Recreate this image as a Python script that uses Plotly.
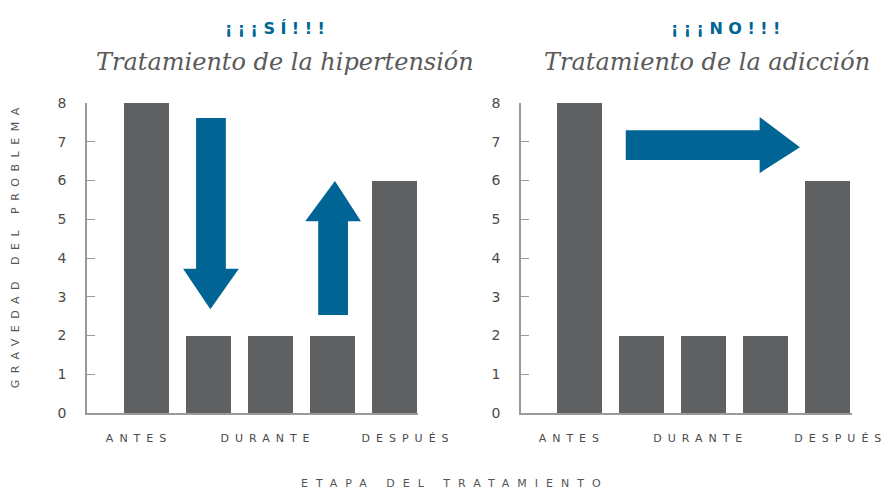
import plotly.graph_objects as go

# ---- data ----
positions = [0, 1, 2, 3, 4]
hipertension_values = [8, 2, 2, 2, 6]
adiccion_values = [8, 2, 2, 2, 6]
stage_labels = ["ANTES", "DURANTE", "DESPUÉS"]
stage_tick_positions = [-0.12, 1.96, 4.22]
y_ticks = [0, 1, 2, 3, 4, 5, 6, 7, 8]

# arrow outlines (data units of each panel)
arrow_down = [(0.80, 7.61), (1.28, 7.61), (1.28, 3.72), (1.49, 3.72), (1.03, 2.68),
              (0.59, 3.72), (0.80, 3.72)]
arrow_up = [(2.77, 2.53), (3.25, 2.53), (3.25, 4.95), (3.46, 4.95), (3.04, 5.99),
            (2.56, 4.95), (2.77, 4.95)]
arrow_right = [(0.75, 6.53), (0.75, 7.30), (2.91, 7.30), (2.91, 7.64), (3.56, 6.86),
               (2.91, 6.19), (2.91, 6.53)]

BAR = "#5f6062"
BLUE = "#006595"
AXIS = "#9a9a9a"
TXT = "#4a4a4a"

W, H = 891, 490

fig = go.Figure()
fig.add_trace(go.Bar(x=positions, y=hipertension_values, marker_color=BAR,
                     marker_line_width=0, width=0.726, xaxis="x", yaxis="y",
                     showlegend=False, hoverinfo="skip"))
fig.add_trace(go.Bar(x=positions, y=adiccion_values, marker_color=BAR,
                     marker_line_width=0, width=0.726, xaxis="x2", yaxis="y2",
                     showlegend=False, hoverinfo="skip"))


def path_of(pts):
    return "M " + " L ".join(f"{x},{y}" for x, y in pts) + " Z"


shapes = [
    dict(type="path", path=path_of(arrow_down), xref="x", yref="y",
         fillcolor=BLUE, line=dict(width=0), layer="above"),
    dict(type="path", path=path_of(arrow_up), xref="x", yref="y",
         fillcolor=BLUE, line=dict(width=0), layer="above"),
    dict(type="path", path=path_of(arrow_right), xref="x2", yref="y2",
         fillcolor=BLUE, line=dict(width=0), layer="above"),
]

xcommon = dict(showline=True, linecolor=AXIS, linewidth=1.5, showgrid=False,
               zeroline=False, ticks="", tickvals=stage_tick_positions,
               ticktext=stage_labels, ticklabelstandoff=14, automargin=False,
               tickfont=dict(family="DejaVu Sans", size=11, color=TXT),
               fixedrange=True)
ycommon = dict(showline=True, linecolor=AXIS, linewidth=1.5, showgrid=False,
               zeroline=False, ticks="inside", ticklen=8, tickcolor=AXIS,
               tickwidth=1.2, tickvals=y_ticks, range=[0, 8], automargin=False,
               ticklabelstandoff=16,
               tickfont=dict(family="DejaVu Sans", size=14, color=TXT),
               domain=[77 / H, 387 / H], fixedrange=True)

annotations = [
    dict(text="¡¡¡SÍ!!!", x=277 / W, y=1 - 28 / H, xref="paper", yref="paper",
         showarrow=False, xanchor="center", yanchor="middle",
         font=dict(family="DejaVu Sans", size=16, color=BLUE, weight="bold")),
    dict(text="¡¡¡NO!!!", x=728 / W, y=1 - 28 / H, xref="paper", yref="paper",
         showarrow=False, xanchor="center", yanchor="middle",
         font=dict(family="DejaVu Sans", size=16, color=BLUE, weight="bold")),
    dict(text="<i>Tratamiento de la hipertensión</i>", x=285 / W, y=1 - 62 / H,
         xref="paper", yref="paper", showarrow=False, xanchor="center",
         yanchor="middle",
         font=dict(family="DejaVu Serif", size=24, color="#5a5a5a")),
    dict(text="<i>Tratamiento de la adicción</i>", x=707 / W, y=1 - 62 / H,
         xref="paper", yref="paper", showarrow=False, xanchor="center",
         yanchor="middle",
         font=dict(family="DejaVu Serif", size=24, color="#5a5a5a")),
    dict(text="ETAPA DEL TRATAMIENTO", x=455 / W, y=1 - 483 / H, xref="paper",
         yref="paper", showarrow=False, xanchor="center", yanchor="middle",
         borderpad=0,
         font=dict(family="DejaVu Sans", size=11, color="#555555")),
    dict(text="GRAVEDAD DEL PROBLEMA", x=15 / W, y=1 - 245 / H, xref="paper",
         yref="paper", showarrow=False, xanchor="center", yanchor="middle",
         textangle=-90,
         font=dict(family="DejaVu Sans", size=11, color="#555555")),
]

fig.update_layout(
    width=W, height=H,
    margin=dict(l=0, r=0, t=0, b=0, autoexpand=False),
    paper_bgcolor="white", plot_bgcolor="white",
    xaxis=dict(domain=[87 / W, 418 / W], range=[-0.96, 4.38], anchor="y", **xcommon),
    xaxis2=dict(domain=[521 / W, 852 / W], range=[-0.94, 4.40], anchor="y2", **xcommon),
    yaxis=dict(anchor="x", **ycommon),
    yaxis2=dict(anchor="x2", **ycommon),
    shapes=shapes,
    annotations=annotations,
    bargap=0,
)

post = """
document.documentElement.style.margin='0';
document.body.style.margin='0';
document.body.style.overflow='hidden';
var sp = function(sel, v){document.querySelectorAll(sel).forEach(function(t){t.style.letterSpacing=v;});};
sp('.xtick text, .x2tick text', '6px');
sp('.annotation[data-index="0"] text', '5.5px');
sp('.annotation[data-index="1"] text', '5.5px');
sp('.annotation[data-index="4"] text', '8px');
sp('.annotation[data-index="5"] text', '6.5px');
"""

fig.write_html("out.html", post_script=post, config={"displayModeBar": False})
